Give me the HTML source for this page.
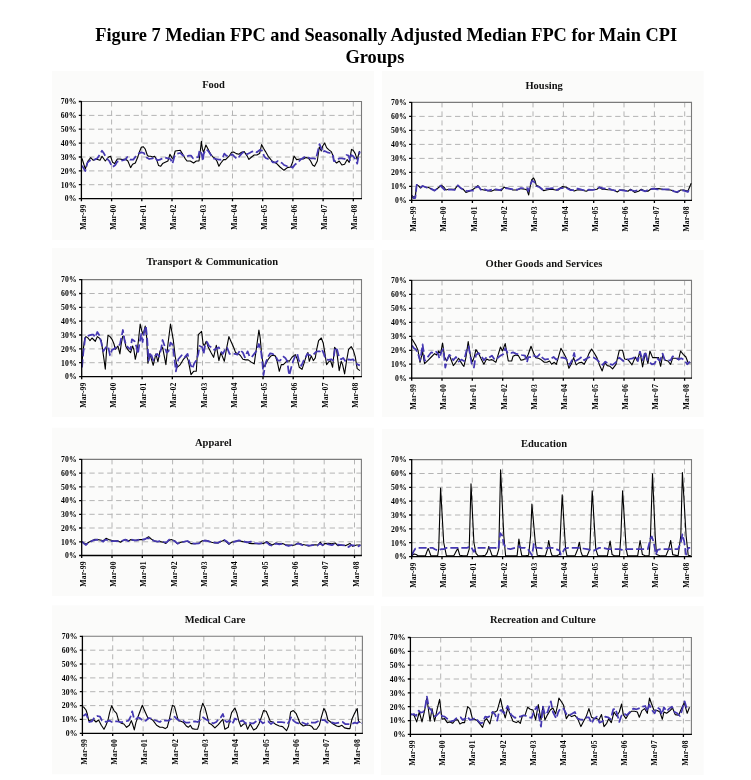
<!DOCTYPE html>
<html><head><meta charset="utf-8"><style>
html,body{margin:0;padding:0;background:#fff;}
svg{display:block;filter:blur(0.3px);}
.t{font:bold 10.5px "Liberation Serif", serif;fill:#111;}
.y,.x{font:bold 7.7px "Liberation Serif", serif;fill:#000;letter-spacing:0.15px;}
.h{font:bold 18.35px "Liberation Serif", serif;fill:#000;}
</style></head><body>
<svg width="751" height="780" viewBox="0 0 751 780">
<rect width="751" height="780" fill="#fff"/>
<text x="95.3" y="40.8" class="h">Figure 7 Median FPC and Seasonally Adjusted Median FPC for Main CPI</text>
<text x="345.5" y="62.5" class="h">Groups</text>
<rect x="52" y="71" width="322.0" height="169.0" fill="#fbfbfa"/>
<text x="213.6" y="88.2" class="t" text-anchor="middle">Food</text>
<path d="M81.4 184.7H361.5 M81.4 170.9H361.5 M81.4 157.0H361.5 M81.4 143.1H361.5 M81.4 129.2H361.5 M81.4 115.4H361.5" stroke="#b4b4b4" stroke-width="1" stroke-dasharray="5.3 3.6" stroke-dashoffset="1.2" fill="none"/>
<path d="M111.6 101.5V198.6 M141.8 101.5V198.6 M172.0 101.5V198.6 M202.2 101.5V198.6 M232.5 101.5V198.6 M262.7 101.5V198.6 M292.9 101.5V198.6 M323.1 101.5V198.6 M353.3 101.5V198.6" stroke="#b4b4b4" stroke-width="1" stroke-dasharray="5 4" fill="none"/>
<path d="M81.4 101.5H361.5V198.6" stroke="#7a7a7a" stroke-width="1.1" fill="none"/>
<polyline points="82.0,158.3 85.3,169.0 88.0,161.0 90.7,157.6 93.3,160.3 96.0,159.0 100.0,160.3 102.0,156.3 105.3,161.0 108.6,157.0 110.6,156.3 112.6,162.3 114.6,163.6 117.3,159.0 119.9,159.0 122.6,159.6 125.3,159.0 127.9,161.0 130.6,167.6 132.6,164.3 135.3,163.0 137.3,158.3 139.3,152.3 141.3,147.3 143.2,146.7 145.2,149.0 147.2,155.0 148.6,156.3 150.6,156.3 152.6,157.0 154.6,156.3 156.6,159.6 158.6,165.6 160.6,166.3 162.6,163.6 165.2,162.3 167.9,161.0 169.9,154.3 171.9,157.6 173.2,159.0 175.2,151.0 180.3,150.3 182.3,153.6 185.0,158.3 187.0,161.0 190.3,161.0 193.6,163.0 196.3,161.0 199.0,161.0 200.3,151.0 201.4,141.4 202.3,148.3 203.6,152.3 205.9,145.0 208.3,149.6 210.3,153.6 212.9,157.0 214.9,158.3 216.9,161.0 218.9,166.3 220.9,163.0 223.6,159.6 225.6,159.6 227.6,157.6 229.6,155.6 231.6,152.3 233.6,152.0 236.3,153.6 238.9,154.3 241.6,152.3 244.2,151.6 246.9,155.6 248.9,159.4 251.6,157.0 254.2,155.0 256.9,155.0 259.6,153.6 261.6,144.6 263.5,148.3 265.5,151.6 268.2,156.3 270.9,159.6 272.7,161.6 276.7,163.6 280.0,167.0 284.0,170.3 287.3,167.6 290.6,167.0 292.6,162.3 294.0,156.0 296.6,159.6 300.0,159.0 303.3,159.0 306.0,157.6 308.6,158.3 310.6,161.0 312.6,165.0 314.6,166.3 317.3,161.0 319.3,147.0 321.3,151.0 322.6,146.3 324.6,143.0 326.6,147.6 328.6,149.6 331.3,151.6 333.2,156.3 333.9,160.3 336.6,163.0 339.2,161.0 341.9,165.0 344.6,164.3 347.2,159.6 349.2,162.3 351.5,149.4 353.2,150.3 355.2,153.6 357.2,159.6 359.5,151.0" stroke="#000" stroke-width="1.1" fill="none" stroke-linejoin="round"/>
<polyline points="82.0,165.6 85.3,171.0 87.3,163.0 89.3,161.0 92.0,159.6 94.6,159.6 97.3,158.3 100.0,154.3 102.0,150.7 104.0,153.6 106.6,158.3 109.3,161.0 111.3,165.0 112.6,167.0 115.3,165.0 117.3,161.6 119.9,161.0 122.6,160.3 125.3,159.6 127.3,157.0 129.9,159.6 133.3,159.6 135.9,156.3 138.6,153.6 141.3,152.3 143.9,153.0 146.6,157.6 149.2,159.0 152.6,158.3 154.6,157.0 157.2,160.3 159.9,159.6 162.6,158.3 165.2,157.6 167.9,158.3 170.5,159.0 172.5,163.6 174.5,156.3 177.2,153.6 180.3,153.0 182.3,155.0 184.3,156.3 187.0,156.3 189.0,155.6 191.0,155.6 193.0,158.3 195.6,157.6 198.3,157.0 199.6,150.3 201.6,153.6 203.0,161.0 203.6,154.3 205.6,149.6 207.6,150.3 209.6,153.0 212.9,158.3 216.3,159.0 218.9,159.6 220.9,159.6 222.9,157.0 224.3,153.6 226.3,155.6 228.3,156.3 230.3,155.6 232.3,154.3 234.9,157.0 236.9,159.0 238.9,157.0 241.6,153.6 244.2,151.6 246.9,154.3 249.6,153.0 252.2,151.6 254.9,151.0 256.9,152.3 260.2,149.6 262.2,151.0 264.2,156.3 266.2,158.3 269.5,159.6 272.2,161.6 272.7,162.3 276.0,162.3 278.0,161.0 282.0,163.0 284.0,165.0 287.3,166.3 290.0,166.3 292.6,167.6 295.3,164.3 298.0,162.3 300.6,159.6 304.6,157.0 307.3,157.0 309.9,158.3 313.9,158.3 315.9,159.0 317.9,151.0 319.5,144.1 321.3,148.3 322.6,152.3 324.6,151.0 327.3,152.3 329.9,153.0 332.6,154.3 333.9,161.0 336.6,161.0 339.2,158.3 341.9,158.3 344.6,159.0 346.6,155.0 348.6,155.6 349.9,160.3 351.2,155.0 353.2,156.3 355.2,159.0 357.2,163.6 358.5,156.3 359.9,151.6" stroke="#4538b2" stroke-width="1.75" stroke-dasharray="8 3" fill="none" stroke-linejoin="round"/>
<path d="M81.4 101.0V198.6H362.0 M78.8 198.6H81.4 M78.8 184.7H81.4 M78.8 170.9H81.4 M78.8 157.0H81.4 M78.8 143.1H81.4 M78.8 129.2H81.4 M78.8 115.4H81.4 M78.8 101.5H81.4 M81.4 198.6V201.2 M111.6 198.6V201.2 M141.8 198.6V201.2 M172.0 198.6V201.2 M202.2 198.6V201.2 M232.5 198.6V201.2 M262.7 198.6V201.2 M292.9 198.6V201.2 M323.1 198.6V201.2 M353.3 198.6V201.2" stroke="#000" stroke-width="1.3" fill="none"/>
<text x="76.5" y="201.4" class="y" text-anchor="end">0%</text>
<text x="76.5" y="187.5" class="y" text-anchor="end">10%</text>
<text x="76.5" y="173.7" class="y" text-anchor="end">20%</text>
<text x="76.5" y="159.8" class="y" text-anchor="end">30%</text>
<text x="76.5" y="145.9" class="y" text-anchor="end">40%</text>
<text x="76.5" y="132.0" class="y" text-anchor="end">50%</text>
<text x="76.5" y="118.2" class="y" text-anchor="end">60%</text>
<text x="76.5" y="104.3" class="y" text-anchor="end">70%</text>
<text transform="translate(85.5 204.4) rotate(-90)" class="x" text-anchor="end">Mar-99</text>
<text transform="translate(115.7 204.4) rotate(-90)" class="x" text-anchor="end">Mar-00</text>
<text transform="translate(145.9 204.4) rotate(-90)" class="x" text-anchor="end">Mar-01</text>
<text transform="translate(176.1 204.4) rotate(-90)" class="x" text-anchor="end">Mar-02</text>
<text transform="translate(206.3 204.4) rotate(-90)" class="x" text-anchor="end">Mar-03</text>
<text transform="translate(236.6 204.4) rotate(-90)" class="x" text-anchor="end">Mar-04</text>
<text transform="translate(266.8 204.4) rotate(-90)" class="x" text-anchor="end">Mar-05</text>
<text transform="translate(297.0 204.4) rotate(-90)" class="x" text-anchor="end">Mar-06</text>
<text transform="translate(327.2 204.4) rotate(-90)" class="x" text-anchor="end">Mar-07</text>
<text transform="translate(357.4 204.4) rotate(-90)" class="x" text-anchor="end">Mar-08</text>
<rect x="382" y="71" width="321.6" height="169.0" fill="#fbfbfa"/>
<text x="544.1" y="88.6" class="t" text-anchor="middle">Housing</text>
<path d="M411.7 186.4H691.5 M411.7 172.4H691.5 M411.7 158.4H691.5 M411.7 144.4H691.5 M411.7 130.4H691.5 M411.7 116.4H691.5" stroke="#b4b4b4" stroke-width="1" stroke-dasharray="5.3 3.6" stroke-dashoffset="1.2" fill="none"/>
<path d="M442.0 102.4V200.4 M472.4 102.4V200.4 M502.7 102.4V200.4 M533.0 102.4V200.4 M563.4 102.4V200.4 M593.7 102.4V200.4 M624.0 102.4V200.4 M654.4 102.4V200.4 M684.7 102.4V200.4" stroke="#b4b4b4" stroke-width="1" stroke-dasharray="5 4" fill="none"/>
<path d="M411.7 102.4H691.5V200.4" stroke="#7a7a7a" stroke-width="1.1" fill="none"/>
<polyline points="411.7,195.3 414.0,197.3 415.3,196.6 416.7,184.6 418.7,186.0 420.6,188.0 422.6,186.0 425.3,187.0 428.0,187.3 430.6,188.6 434.6,190.6 438.0,188.0 441.3,185.3 444.0,187.3 445.9,190.0 448.6,189.3 451.9,189.3 454.6,189.3 457.9,185.3 460.6,188.0 463.3,189.3 465.9,192.4 469.3,191.3 473.2,189.3 477.9,185.7 480.6,189.3 483.9,190.0 487.9,190.6 491.2,191.3 494.6,189.7 498.5,190.0 501.2,190.6 503.9,187.3 509.0,188.6 513.0,190.0 517.0,190.0 521.0,188.6 525.0,189.3 527.0,190.0 528.7,195.0 530.3,186.0 531.6,180.0 533.6,178.0 535.0,180.7 536.3,185.3 539.0,186.6 541.6,188.6 543.6,190.6 547.6,189.7 551.6,189.3 555.6,190.0 558.3,190.0 560.3,188.0 562.3,186.6 566.3,187.3 570.2,189.3 574.2,191.0 577.6,189.7 581.6,190.0 586.2,191.3 588.9,190.0 592.9,189.7 596.9,189.3 599.5,187.3 602.2,189.3 604.0,189.3 608.0,189.7 613.3,190.0 617.3,192.0 620.0,190.0 624.0,190.0 628.0,191.3 630.6,189.3 634.6,192.4 638.6,191.3 641.3,189.3 645.3,191.3 647.9,191.3 650.6,189.3 654.6,188.6 658.6,188.6 662.6,189.3 666.6,189.7 670.6,190.0 673.9,191.3 677.2,192.6 680.6,190.0 683.9,190.0 687.9,191.3 689.5,187.3 691.2,183.3" stroke="#000" stroke-width="1.1" fill="none" stroke-linejoin="round"/>
<polyline points="411.7,196.0 413.3,198.0 415.3,198.0 416.7,184.9 418.7,186.6 420.6,187.3 422.6,186.0 425.3,187.0 428.0,188.0 430.6,188.6 434.6,190.6 437.3,188.6 440.6,185.7 443.3,188.6 445.3,190.6 447.9,189.7 451.3,189.7 454.6,190.0 457.9,185.3 460.6,188.0 463.9,190.0 466.6,191.0 470.6,190.6 473.2,190.6 475.9,187.3 478.6,186.6 481.2,190.0 484.6,189.3 487.9,190.6 491.9,189.7 495.9,189.3 499.9,190.2 503.9,188.0 509.0,188.6 513.0,189.3 517.0,189.7 521.0,188.0 525.0,188.6 527.0,188.0 528.3,191.3 530.3,184.6 532.3,180.7 534.3,182.0 536.3,186.0 539.6,187.3 542.9,190.0 546.3,188.6 550.3,188.4 554.3,188.0 556.9,190.0 559.6,188.6 562.3,188.0 566.3,188.0 570.2,190.0 574.2,190.0 577.6,188.6 581.6,189.7 585.6,190.6 588.9,189.7 592.9,190.0 596.9,188.9 599.5,187.3 604.0,188.6 608.0,188.0 612.0,190.0 616.0,190.6 620.0,190.0 624.0,190.6 628.0,191.3 630.6,190.0 634.6,191.0 638.6,190.0 641.3,190.0 645.3,191.3 649.3,189.3 653.3,188.6 657.3,189.3 661.3,189.3 666.6,189.3 670.6,189.3 673.9,191.3 677.2,192.0 680.6,190.0 683.9,190.6 687.9,192.0 689.5,188.6" stroke="#4538b2" stroke-width="1.75" stroke-dasharray="8 3" fill="none" stroke-linejoin="round"/>
<path d="M411.7 101.9V200.4H692.0 M409.1 200.4H411.7 M409.1 186.4H411.7 M409.1 172.4H411.7 M409.1 158.4H411.7 M409.1 144.4H411.7 M409.1 130.4H411.7 M409.1 116.4H411.7 M409.1 102.4H411.7 M411.7 200.4V203.0 M442.0 200.4V203.0 M472.4 200.4V203.0 M502.7 200.4V203.0 M533.0 200.4V203.0 M563.4 200.4V203.0 M593.7 200.4V203.0 M624.0 200.4V203.0 M654.4 200.4V203.0 M684.7 200.4V203.0" stroke="#000" stroke-width="1.3" fill="none"/>
<text x="406.8" y="203.2" class="y" text-anchor="end">0%</text>
<text x="406.8" y="189.2" class="y" text-anchor="end">10%</text>
<text x="406.8" y="175.2" class="y" text-anchor="end">20%</text>
<text x="406.8" y="161.2" class="y" text-anchor="end">30%</text>
<text x="406.8" y="147.2" class="y" text-anchor="end">40%</text>
<text x="406.8" y="133.2" class="y" text-anchor="end">50%</text>
<text x="406.8" y="119.2" class="y" text-anchor="end">60%</text>
<text x="406.8" y="105.2" class="y" text-anchor="end">70%</text>
<text transform="translate(415.8 206.2) rotate(-90)" class="x" text-anchor="end">Mar-99</text>
<text transform="translate(446.1 206.2) rotate(-90)" class="x" text-anchor="end">Mar-00</text>
<text transform="translate(476.5 206.2) rotate(-90)" class="x" text-anchor="end">Mar-01</text>
<text transform="translate(506.8 206.2) rotate(-90)" class="x" text-anchor="end">Mar-02</text>
<text transform="translate(537.1 206.2) rotate(-90)" class="x" text-anchor="end">Mar-03</text>
<text transform="translate(567.5 206.2) rotate(-90)" class="x" text-anchor="end">Mar-04</text>
<text transform="translate(597.8 206.2) rotate(-90)" class="x" text-anchor="end">Mar-05</text>
<text transform="translate(628.1 206.2) rotate(-90)" class="x" text-anchor="end">Mar-06</text>
<text transform="translate(658.5 206.2) rotate(-90)" class="x" text-anchor="end">Mar-07</text>
<text transform="translate(688.8 206.2) rotate(-90)" class="x" text-anchor="end">Mar-08</text>
<rect x="52" y="248" width="322.0" height="169.0" fill="#fbfbfa"/>
<text x="212.2" y="265.2" class="t" text-anchor="middle">Transport &amp; Communication</text>
<path d="M81.7 362.7H361.5 M81.7 348.9H361.5 M81.7 335.0H361.5 M81.7 321.2H361.5 M81.7 307.3H361.5 M81.7 293.5H361.5" stroke="#b4b4b4" stroke-width="1" stroke-dasharray="5.3 3.6" stroke-dashoffset="1.2" fill="none"/>
<path d="M111.9 279.6V376.6 M142.1 279.6V376.6 M172.3 279.6V376.6 M202.5 279.6V376.6 M232.8 279.6V376.6 M263.0 279.6V376.6 M293.2 279.6V376.6 M323.4 279.6V376.6 M353.6 279.6V376.6" stroke="#b4b4b4" stroke-width="1" stroke-dasharray="5 4" fill="none"/>
<path d="M81.7 279.6H361.5V376.6" stroke="#7a7a7a" stroke-width="1.1" fill="none"/>
<polyline points="81.7,367.3 82.7,353.9 84.7,338.6 86.0,336.6 88.0,338.0 90.0,340.6 92.0,338.0 94.0,340.0 95.3,341.3 97.3,336.6 99.3,338.0 101.3,340.6 102.6,349.9 104.0,359.3 105.3,369.3 106.6,349.9 108.0,335.3 110.0,336.6 112.0,339.3 114.0,344.0 115.3,349.3 117.9,346.0 119.9,353.9 121.3,343.3 122.6,336.6 123.9,336.0 125.9,346.6 128.6,350.6 130.6,352.6 132.6,346.0 133.9,349.9 135.3,359.3 137.3,349.9 138.6,339.3 140.2,324.0 141.9,331.3 143.2,334.6 145.2,326.0 146.6,336.6 147.9,363.3 149.9,353.9 153.2,365.3 155.9,353.9 157.9,361.9 159.9,351.3 162.6,347.3 165.9,364.6 167.9,344.6 170.5,324.0 173.2,339.3 175.2,356.6 177.2,367.3 180.3,364.6 183.0,359.9 186.3,355.9 188.3,360.6 191.0,374.6 193.6,371.3 196.3,371.3 197.6,349.9 198.3,334.6 201.6,331.3 203.0,343.3 204.3,346.0 206.3,341.3 208.3,347.3 211.0,352.6 213.6,357.3 216.3,345.3 218.9,360.6 220.9,352.6 224.3,361.3 226.3,349.9 228.9,336.6 230.9,341.3 233.6,347.3 235.6,352.6 238.2,353.9 240.2,355.3 242.9,359.3 245.6,359.9 248.2,359.9 250.9,361.9 254.2,363.9 256.2,349.9 258.9,330.0 260.2,338.0 261.6,353.9 263.5,367.3 265.5,364.6 268.2,359.3 270.9,355.9 272.7,355.3 275.3,355.9 277.3,361.9 279.3,371.3 281.3,364.6 283.3,364.6 285.3,362.6 287.3,360.6 289.3,361.3 292.0,357.3 295.3,354.6 297.3,359.3 299.3,367.3 302.0,369.3 304.0,363.3 306.0,356.6 307.9,352.6 309.3,361.3 311.3,355.9 313.3,360.6 315.3,357.9 316.6,349.9 318.6,340.6 321.3,338.0 323.3,343.3 324.6,351.3 326.6,364.6 328.6,361.9 330.6,360.6 332.6,367.3 334.6,347.3 336.6,349.9 337.9,360.6 339.2,370.6 341.2,361.3 342.6,364.6 344.6,373.9 346.6,360.6 348.6,349.3 351.2,346.6 353.2,349.9 355.2,356.6 357.2,368.6 359.9,370.6" stroke="#000" stroke-width="1.1" fill="none" stroke-linejoin="round"/>
<polyline points="82.0,367.3 83.3,352.6 85.3,337.3 87.3,336.0 89.3,335.3 92.0,334.6 93.3,334.6 95.3,337.3 97.3,332.0 99.3,335.3 101.3,342.6 103.3,351.3 106.0,347.3 108.0,346.0 110.0,355.3 112.0,349.9 114.6,348.6 117.3,346.0 119.9,344.6 121.3,338.0 122.9,330.0 124.6,340.6 126.6,346.0 128.6,347.9 130.6,349.3 131.9,339.3 134.6,341.3 136.6,347.3 137.9,353.9 139.3,344.6 141.3,334.0 142.6,342.0 143.9,333.3 145.9,326.0 147.2,339.3 148.6,360.6 150.6,352.6 153.2,360.6 155.2,355.9 157.2,353.9 159.2,356.6 161.2,348.6 162.6,340.0 164.6,346.0 166.6,352.6 168.5,351.3 170.5,342.6 172.5,344.6 173.9,353.9 175.9,371.3 178.3,359.3 181.7,355.3 184.3,357.9 187.6,353.9 189.6,362.6 192.3,368.6 194.3,363.3 196.3,360.6 198.3,353.9 199.6,346.0 202.3,347.3 203.6,353.9 205.0,346.0 207.0,342.0 209.0,346.0 211.6,347.3 214.3,349.9 216.3,348.6 218.9,347.3 220.9,351.3 222.9,353.9 224.9,349.9 226.9,347.3 229.6,353.9 232.3,353.9 234.9,353.9 237.6,354.6 240.2,349.9 242.9,352.6 244.9,357.3 247.6,351.3 249.6,356.6 251.6,357.3 254.2,353.9 256.2,351.3 258.9,344.0 260.9,349.9 262.2,360.6 263.5,375.2 265.5,363.3 268.2,356.6 270.2,353.3 272.7,353.9 275.3,355.9 278.0,360.6 280.0,360.6 283.3,356.6 285.3,357.9 287.3,361.3 288.6,371.3 289.3,375.2 291.3,367.3 293.3,360.6 295.3,355.9 297.3,353.9 298.6,359.3 301.3,365.9 303.3,361.3 305.3,357.9 307.3,353.9 309.9,355.3 312.6,355.3 315.3,352.6 317.3,351.3 319.9,351.3 321.9,349.3 323.9,353.9 325.9,359.3 328.6,359.9 331.3,359.3 333.2,360.6 335.2,347.3 337.2,349.9 339.2,357.9 341.2,359.3 343.2,357.9 345.9,361.9 348.6,359.3 350.6,359.9 353.2,359.3 355.9,363.3 357.9,364.6 359.9,365.3" stroke="#4538b2" stroke-width="1.75" stroke-dasharray="8 3" fill="none" stroke-linejoin="round"/>
<path d="M81.7 279.1V376.6H362.0 M79.1 376.6H81.7 M79.1 362.7H81.7 M79.1 348.9H81.7 M79.1 335.0H81.7 M79.1 321.2H81.7 M79.1 307.3H81.7 M79.1 293.5H81.7 M79.1 279.6H81.7 M81.7 376.6V379.2 M111.9 376.6V379.2 M142.1 376.6V379.2 M172.3 376.6V379.2 M202.5 376.6V379.2 M232.8 376.6V379.2 M263.0 376.6V379.2 M293.2 376.6V379.2 M323.4 376.6V379.2 M353.6 376.6V379.2" stroke="#000" stroke-width="1.3" fill="none"/>
<text x="76.8" y="379.4" class="y" text-anchor="end">0%</text>
<text x="76.8" y="365.5" class="y" text-anchor="end">10%</text>
<text x="76.8" y="351.7" class="y" text-anchor="end">20%</text>
<text x="76.8" y="337.8" class="y" text-anchor="end">30%</text>
<text x="76.8" y="324.0" class="y" text-anchor="end">40%</text>
<text x="76.8" y="310.1" class="y" text-anchor="end">50%</text>
<text x="76.8" y="296.3" class="y" text-anchor="end">60%</text>
<text x="76.8" y="282.4" class="y" text-anchor="end">70%</text>
<text transform="translate(85.8 382.4) rotate(-90)" class="x" text-anchor="end">Mar-99</text>
<text transform="translate(116.0 382.4) rotate(-90)" class="x" text-anchor="end">Mar-00</text>
<text transform="translate(146.2 382.4) rotate(-90)" class="x" text-anchor="end">Mar-01</text>
<text transform="translate(176.4 382.4) rotate(-90)" class="x" text-anchor="end">Mar-02</text>
<text transform="translate(206.6 382.4) rotate(-90)" class="x" text-anchor="end">Mar-03</text>
<text transform="translate(236.9 382.4) rotate(-90)" class="x" text-anchor="end">Mar-04</text>
<text transform="translate(267.1 382.4) rotate(-90)" class="x" text-anchor="end">Mar-05</text>
<text transform="translate(297.3 382.4) rotate(-90)" class="x" text-anchor="end">Mar-06</text>
<text transform="translate(327.5 382.4) rotate(-90)" class="x" text-anchor="end">Mar-07</text>
<text transform="translate(357.7 382.4) rotate(-90)" class="x" text-anchor="end">Mar-08</text>
<rect x="382" y="250" width="321.6" height="167.0" fill="#fbfbfa"/>
<text x="543.9" y="267.2" class="t" text-anchor="middle">Other Goods and Services</text>
<path d="M411.7 364.2H691.5 M411.7 350.3H691.5 M411.7 336.3H691.5 M411.7 322.3H691.5 M411.7 308.3H691.5 M411.7 294.4H691.5" stroke="#b4b4b4" stroke-width="1" stroke-dasharray="5.3 3.6" stroke-dashoffset="1.2" fill="none"/>
<path d="M442.0 280.4V378.2 M472.3 280.4V378.2 M502.7 280.4V378.2 M533.0 280.4V378.2 M563.3 280.4V378.2 M593.6 280.4V378.2 M624.0 280.4V378.2 M654.3 280.4V378.2 M684.6 280.4V378.2" stroke="#b4b4b4" stroke-width="1" stroke-dasharray="5 4" fill="none"/>
<path d="M411.7 280.4H691.5V378.2" stroke="#7a7a7a" stroke-width="1.1" fill="none"/>
<polyline points="412.0,339.0 414.0,342.3 416.0,345.6 418.0,350.3 420.0,362.3 421.3,357.0 422.6,351.6 423.7,358.3 424.6,363.6 428.0,360.3 431.3,357.0 434.6,353.6 436.6,355.0 438.6,351.0 440.6,353.6 442.6,343.0 444.6,357.0 446.6,361.0 449.3,355.0 451.3,360.3 453.3,365.6 455.9,362.3 458.6,358.3 460.6,361.6 462.6,364.9 463.9,366.3 465.9,357.6 468.2,341.6 470.6,357.0 472.6,361.6 474.6,355.6 475.9,349.6 478.6,353.6 481.2,359.0 483.9,364.3 486.6,359.0 489.2,360.3 491.9,359.6 495.9,362.3 497.9,355.6 500.5,347.0 502.5,351.0 505.2,343.6 508.3,361.0 511.7,361.0 513.0,356.3 515.7,355.0 518.3,355.6 521.0,360.3 523.6,359.6 526.3,358.3 528.3,354.3 531.0,346.3 533.6,353.0 535.6,357.6 538.3,358.3 541.0,359.6 544.3,362.3 546.9,362.3 549.6,361.0 551.6,364.3 554.3,362.3 556.3,364.3 558.3,357.6 560.9,348.3 563.6,353.0 566.3,358.3 568.9,368.3 571.6,363.6 573.6,357.6 576.2,364.9 578.9,362.9 581.6,362.3 584.2,364.3 586.9,359.0 588.9,353.6 591.6,349.0 594.2,353.0 596.9,357.6 599.5,364.9 602.2,370.9 604.7,362.9 607.3,365.6 610.0,366.3 612.6,368.9 616.0,364.3 619.3,350.3 622.6,350.3 624.6,359.0 628.0,359.6 632.0,364.9 635.3,357.0 637.3,361.0 639.9,351.6 642.6,366.9 645.3,353.0 647.9,363.6 649.9,351.0 652.6,357.6 655.9,357.6 658.6,357.6 660.6,366.3 662.6,355.6 665.2,360.3 667.9,361.0 670.6,364.3 672.6,358.3 675.9,358.3 678.6,359.6 680.6,351.0 683.2,354.3 685.9,357.0 687.9,362.3 690.5,362.9" stroke="#000" stroke-width="1.1" fill="none" stroke-linejoin="round"/>
<polyline points="412.0,345.6 414.0,348.3 416.0,349.6 418.0,353.6 420.0,360.3 421.3,353.6 422.6,344.3 424.0,354.3 424.6,361.0 427.3,357.6 431.3,352.3 434.0,353.0 436.0,351.6 438.0,353.6 439.3,358.3 441.3,352.3 443.3,349.0 445.3,367.6 447.3,359.6 449.3,355.0 450.6,355.6 453.3,360.3 455.9,357.0 458.6,361.6 461.3,359.6 463.9,361.0 466.6,350.3 468.6,346.3 469.9,353.6 471.9,364.9 473.9,367.6 475.9,355.0 478.6,353.0 481.2,355.6 483.9,360.3 486.6,357.0 489.2,357.6 491.9,355.6 494.6,359.6 497.2,358.3 500.5,355.6 503.2,354.3 505.2,348.3 507.7,353.0 511.0,353.0 513.0,352.3 515.7,353.6 518.3,354.3 521.6,355.0 525.0,355.6 527.0,362.3 528.3,357.0 531.6,357.0 533.6,355.6 537.0,357.0 539.6,354.3 542.3,357.6 544.9,359.6 547.6,359.0 550.3,359.0 553.6,357.0 556.3,359.6 558.9,357.6 562.3,357.6 565.6,358.3 567.6,361.0 569.6,364.9 572.2,359.6 574.2,353.0 575.6,361.0 578.2,359.6 581.6,357.0 584.2,360.3 586.9,358.3 590.2,357.0 593.5,357.6 596.9,359.6 599.5,362.3 602.7,364.9 605.3,361.6 608.0,363.6 612.6,364.9 616.0,362.3 619.3,357.6 623.3,361.0 626.0,359.6 629.3,359.0 632.6,358.3 636.0,356.3 637.9,361.0 639.9,351.6 642.6,360.3 645.3,351.6 647.3,359.6 649.3,362.3 651.9,364.3 654.6,363.6 657.3,358.3 659.9,361.0 662.6,353.6 664.6,359.6 667.9,360.3 670.6,360.3 672.6,356.3 675.9,357.6 678.6,359.6 681.2,358.3 684.6,360.3 687.2,364.3 689.9,361.6" stroke="#4538b2" stroke-width="1.75" stroke-dasharray="8 3" fill="none" stroke-linejoin="round"/>
<path d="M411.7 279.9V378.2H692.0 M409.1 378.2H411.7 M409.1 364.2H411.7 M409.1 350.3H411.7 M409.1 336.3H411.7 M409.1 322.3H411.7 M409.1 308.3H411.7 M409.1 294.4H411.7 M409.1 280.4H411.7 M411.7 378.2V380.8 M442.0 378.2V380.8 M472.3 378.2V380.8 M502.7 378.2V380.8 M533.0 378.2V380.8 M563.3 378.2V380.8 M593.6 378.2V380.8 M624.0 378.2V380.8 M654.3 378.2V380.8 M684.6 378.2V380.8" stroke="#000" stroke-width="1.3" fill="none"/>
<text x="406.8" y="381.0" class="y" text-anchor="end">0%</text>
<text x="406.8" y="367.0" class="y" text-anchor="end">10%</text>
<text x="406.8" y="353.1" class="y" text-anchor="end">20%</text>
<text x="406.8" y="339.1" class="y" text-anchor="end">30%</text>
<text x="406.8" y="325.1" class="y" text-anchor="end">40%</text>
<text x="406.8" y="311.1" class="y" text-anchor="end">50%</text>
<text x="406.8" y="297.2" class="y" text-anchor="end">60%</text>
<text x="406.8" y="283.2" class="y" text-anchor="end">70%</text>
<text transform="translate(415.8 384.0) rotate(-90)" class="x" text-anchor="end">Mar-99</text>
<text transform="translate(446.1 384.0) rotate(-90)" class="x" text-anchor="end">Mar-00</text>
<text transform="translate(476.4 384.0) rotate(-90)" class="x" text-anchor="end">Mar-01</text>
<text transform="translate(506.8 384.0) rotate(-90)" class="x" text-anchor="end">Mar-02</text>
<text transform="translate(537.1 384.0) rotate(-90)" class="x" text-anchor="end">Mar-03</text>
<text transform="translate(567.4 384.0) rotate(-90)" class="x" text-anchor="end">Mar-04</text>
<text transform="translate(597.7 384.0) rotate(-90)" class="x" text-anchor="end">Mar-05</text>
<text transform="translate(628.1 384.0) rotate(-90)" class="x" text-anchor="end">Mar-06</text>
<text transform="translate(658.4 384.0) rotate(-90)" class="x" text-anchor="end">Mar-07</text>
<text transform="translate(688.7 384.0) rotate(-90)" class="x" text-anchor="end">Mar-08</text>
<rect x="52" y="427.7" width="322.0" height="168.3" fill="#fbfbfa"/>
<text x="213.3" y="445.6" class="t" text-anchor="middle">Apparel</text>
<path d="M81.7 541.8H361.4 M81.7 528.0H361.4 M81.7 514.3H361.4 M81.7 500.6H361.4 M81.7 486.9H361.4 M81.7 473.1H361.4" stroke="#b4b4b4" stroke-width="1" stroke-dasharray="5.3 3.6" stroke-dashoffset="1.2" fill="none"/>
<path d="M112.0 459.4V555.5 M142.3 459.4V555.5 M172.6 459.4V555.5 M202.9 459.4V555.5 M233.3 459.4V555.5 M263.6 459.4V555.5 M293.9 459.4V555.5 M324.2 459.4V555.5 M354.5 459.4V555.5" stroke="#b4b4b4" stroke-width="1" stroke-dasharray="5 4" fill="none"/>
<path d="M81.7 459.4H361.4V555.5" stroke="#7a7a7a" stroke-width="1.1" fill="none"/>
<polyline points="82.0,541.6 84.0,543.0 86.0,544.3 88.7,542.3 91.3,541.0 94.6,539.4 98.0,539.6 101.3,540.3 103.3,540.7 106.0,538.3 108.6,539.6 111.3,540.3 114.0,541.0 117.3,540.7 120.6,542.3 123.3,540.3 125.9,539.6 128.6,541.0 130.6,539.6 133.3,540.3 135.9,540.3 139.3,539.6 142.6,539.6 145.2,539.0 148.6,536.7 151.2,539.0 153.9,540.7 157.2,541.6 159.9,541.6 163.2,542.3 165.9,543.4 168.5,540.7 171.2,539.6 174.5,540.7 177.2,543.6 177.7,543.6 181.0,542.3 184.3,541.6 187.6,541.2 191.0,543.6 195.0,543.6 199.0,543.0 202.3,540.7 205.0,540.3 208.3,541.0 211.6,542.3 214.9,543.0 218.3,543.0 220.9,541.6 224.3,540.3 226.9,542.3 228.9,544.3 231.6,542.3 234.9,541.2 238.9,540.7 242.9,541.6 246.9,542.0 249.6,543.4 252.2,543.6 256.2,543.6 260.2,543.6 263.5,543.4 266.9,541.6 269.5,543.6 272.2,545.0 272.7,544.7 276.0,543.0 279.3,543.9 282.6,543.6 286.0,545.0 289.3,545.0 292.6,545.6 295.3,544.7 298.0,543.0 302.0,544.3 305.3,545.0 308.6,546.0 311.9,545.0 315.3,544.7 317.9,545.0 320.3,542.0 322.6,545.6 324.6,543.6 328.6,543.4 331.9,543.9 335.2,543.0 337.9,545.6 341.9,545.0 345.9,545.6 349.9,543.4 352.6,546.3 356.6,545.0 360.5,545.0" stroke="#000" stroke-width="1.1" fill="none" stroke-linejoin="round"/>
<polyline points="82.0,541.6 84.0,543.6 86.0,545.0 88.0,543.0 90.7,541.6 93.3,540.3 97.3,539.6 100.6,540.3 103.3,541.6 105.3,539.6 108.0,540.3 110.6,541.2 114.0,541.2 117.3,541.0 119.9,541.6 122.6,540.7 125.3,539.6 128.6,541.2 131.3,539.6 134.6,540.3 137.3,540.3 140.6,539.0 143.9,539.6 146.6,538.3 149.2,538.3 151.9,539.9 154.6,541.0 157.2,541.6 159.9,541.2 163.9,542.0 166.6,542.3 169.2,539.6 171.9,540.3 174.5,541.0 177.7,543.6 181.0,542.0 184.3,541.6 187.6,541.0 191.0,543.4 195.0,543.6 199.0,543.4 202.3,541.0 206.3,540.7 209.6,541.6 213.6,542.3 217.6,543.0 220.9,541.2 224.3,539.9 226.9,541.6 228.9,543.6 231.6,542.6 234.9,541.6 238.9,540.3 242.9,541.2 246.9,542.3 250.9,541.6 254.9,543.0 258.9,543.6 262.9,543.0 266.9,542.3 269.5,545.0 272.2,545.6 272.7,545.0 276.0,543.6 279.3,544.3 282.6,543.6 286.0,545.2 288.6,546.0 292.0,545.0 295.3,544.3 298.6,543.6 302.0,545.0 306.0,545.0 309.9,545.6 313.9,545.0 317.3,545.6 319.9,543.6 322.6,545.0 325.3,543.6 328.6,544.3 331.9,545.2 335.2,543.6 337.9,544.7 341.9,545.2 345.9,545.6 348.6,547.0 351.2,545.0 355.2,545.6 358.5,546.3 360.5,545.0" stroke="#4538b2" stroke-width="1.75" stroke-dasharray="8 3" fill="none" stroke-linejoin="round"/>
<path d="M81.7 458.9V555.5H361.9 M79.1 555.5H81.7 M79.1 541.8H81.7 M79.1 528.0H81.7 M79.1 514.3H81.7 M79.1 500.6H81.7 M79.1 486.9H81.7 M79.1 473.1H81.7 M79.1 459.4H81.7 M81.7 555.5V558.1 M112.0 555.5V558.1 M142.3 555.5V558.1 M172.6 555.5V558.1 M202.9 555.5V558.1 M233.3 555.5V558.1 M263.6 555.5V558.1 M293.9 555.5V558.1 M324.2 555.5V558.1 M354.5 555.5V558.1" stroke="#000" stroke-width="1.3" fill="none"/>
<text x="76.8" y="558.3" class="y" text-anchor="end">0%</text>
<text x="76.8" y="544.6" class="y" text-anchor="end">10%</text>
<text x="76.8" y="530.8" class="y" text-anchor="end">20%</text>
<text x="76.8" y="517.1" class="y" text-anchor="end">30%</text>
<text x="76.8" y="503.4" class="y" text-anchor="end">40%</text>
<text x="76.8" y="489.7" class="y" text-anchor="end">50%</text>
<text x="76.8" y="475.9" class="y" text-anchor="end">60%</text>
<text x="76.8" y="462.2" class="y" text-anchor="end">70%</text>
<text transform="translate(85.8 561.3) rotate(-90)" class="x" text-anchor="end">Mar-99</text>
<text transform="translate(116.1 561.3) rotate(-90)" class="x" text-anchor="end">Mar-00</text>
<text transform="translate(146.4 561.3) rotate(-90)" class="x" text-anchor="end">Mar-01</text>
<text transform="translate(176.7 561.3) rotate(-90)" class="x" text-anchor="end">Mar-02</text>
<text transform="translate(207.0 561.3) rotate(-90)" class="x" text-anchor="end">Mar-03</text>
<text transform="translate(237.4 561.3) rotate(-90)" class="x" text-anchor="end">Mar-04</text>
<text transform="translate(267.7 561.3) rotate(-90)" class="x" text-anchor="end">Mar-05</text>
<text transform="translate(298.0 561.3) rotate(-90)" class="x" text-anchor="end">Mar-06</text>
<text transform="translate(328.3 561.3) rotate(-90)" class="x" text-anchor="end">Mar-07</text>
<text transform="translate(358.6 561.3) rotate(-90)" class="x" text-anchor="end">Mar-08</text>
<rect x="382" y="429" width="321.6" height="167.6" fill="#fbfbfa"/>
<text x="544.1" y="447.0" class="t" text-anchor="middle">Education</text>
<path d="M411.7 542.7H691.5 M411.7 528.9H691.5 M411.7 515.0H691.5 M411.7 501.2H691.5 M411.7 487.3H691.5 M411.7 473.5H691.5" stroke="#b4b4b4" stroke-width="1" stroke-dasharray="5.3 3.6" stroke-dashoffset="1.2" fill="none"/>
<path d="M442.0 459.6V556.6 M472.3 459.6V556.6 M502.6 459.6V556.6 M532.9 459.6V556.6 M563.3 459.6V556.6 M593.6 459.6V556.6 M623.9 459.6V556.6 M654.2 459.6V556.6 M684.5 459.6V556.6" stroke="#b4b4b4" stroke-width="1" stroke-dasharray="5 4" fill="none"/>
<path d="M411.7 459.6H691.5V556.6" stroke="#7a7a7a" stroke-width="1.1" fill="none"/>
<polyline points="411.8,555.7 414.1,553.9 416.1,554.6 418.1,555.7 421.5,555.9 425.5,555.7 426.8,551.9 428.2,548.5 429.5,551.9 430.9,555.7 433.6,555.9 437.6,555.9 438.7,549.2 440.6,488.0 443.7,542.5 446.4,555.7 449.7,555.9 453.8,555.7 455.8,551.9 457.8,548.5 459.8,555.3 463.2,555.9 467.2,555.7 469.2,549.2 471.0,483.9 473.9,542.5 476.0,553.3 478.0,555.7 482.0,555.9 485.4,555.3 487.4,551.9 488.8,546.5 490.8,551.9 492.1,555.7 496.8,555.9 498.8,549.2 500.6,469.8 503.8,535.8 505.6,555.7 509.0,555.9 513.1,555.9 517.1,555.7 518.9,539.1 520.5,549.2 521.8,555.7 525.2,555.9 528.6,555.3 530.6,535.8 531.9,504.1 535.3,542.5 537.3,555.3 541.3,555.7 545.4,555.9 547.4,549.2 548.7,540.5 550.8,551.9 552.1,555.7 556.1,555.9 559.5,554.6 560.9,522.3 562.2,494.7 565.6,549.2 566.9,555.7 570.9,555.9 575.0,555.9 577.7,549.2 579.3,542.2 581.0,551.9 582.4,555.7 587.1,555.9 589.8,549.2 592.2,490.7 595.8,549.2 597.9,555.7 604.0,555.7 607.4,555.7 610.1,541.1 612.1,554.6 614.8,555.9 619.5,555.7 620.9,535.8 622.6,490.7 626.2,549.2 627.6,555.7 633.6,555.9 637.7,555.7 640.1,540.5 642.4,554.6 645.8,555.9 649.1,555.7 650.5,535.8 652.5,473.8 655.2,535.8 656.5,554.6 660.6,555.9 665.9,555.9 668.6,549.2 670.7,540.5 672.7,554.6 678.1,555.9 680.8,535.8 682.4,472.5 686.1,535.8 688.2,555.3 690.8,555.9" stroke="#000" stroke-width="1.1" fill="none" stroke-linejoin="round"/>
<polyline points="411.8,555.3 413.4,551.9 415.4,548.5 418.1,547.9 421.5,547.9 425.5,547.9 428.2,547.9 430.2,547.9 432.9,547.9 434.9,549.2 438.3,550.6 441.0,549.2 443.7,549.2 446.4,547.9 449.7,547.9 453.8,547.9 456.5,547.9 459.1,547.9 461.8,547.9 465.2,547.9 467.2,547.9 469.2,546.5 471.3,547.2 473.9,551.9 476.0,547.9 479.3,547.9 483.4,547.9 486.1,547.9 488.8,547.9 492.1,547.9 495.5,547.9 498.4,549.2 500.2,533.1 502.2,535.8 503.8,543.8 505.6,547.9 507.7,548.5 510.4,549.2 515.1,547.9 518.5,546.5 521.2,547.9 525.2,547.9 527.9,549.2 529.9,551.9 531.9,555.3 533.9,543.8 536.0,547.9 538.6,547.9 544.0,548.5 548.1,547.9 552.1,547.9 554.8,548.5 559.5,550.6 560.9,554.6 562.9,551.9 564.9,548.5 568.3,547.9 574.3,547.9 579.0,547.9 583.1,548.5 587.1,549.2 591.1,549.9 593.8,550.6 596.5,549.2 599.2,547.9 604.0,548.1 608.1,549.2 612.1,549.2 616.2,549.2 620.2,549.2 623.6,550.6 626.2,549.2 629.6,549.2 633.6,549.2 639.0,549.2 643.1,549.2 647.8,549.2 650.5,538.4 651.8,536.4 653.8,542.5 655.9,554.6 657.6,549.9 660.6,549.2 665.9,549.2 670.7,549.2 675.4,549.2 678.1,549.2 680.8,542.5 682.4,534.4 684.1,541.1 686.1,554.6 688.2,547.9 690.2,547.9" stroke="#4538b2" stroke-width="1.75" stroke-dasharray="8 3" fill="none" stroke-linejoin="round"/>
<path d="M411.7 459.1V556.6H692.0 M409.1 556.6H411.7 M409.1 542.7H411.7 M409.1 528.9H411.7 M409.1 515.0H411.7 M409.1 501.2H411.7 M409.1 487.3H411.7 M409.1 473.5H411.7 M409.1 459.6H411.7 M411.7 556.6V559.2 M442.0 556.6V559.2 M472.3 556.6V559.2 M502.6 556.6V559.2 M532.9 556.6V559.2 M563.3 556.6V559.2 M593.6 556.6V559.2 M623.9 556.6V559.2 M654.2 556.6V559.2 M684.5 556.6V559.2" stroke="#000" stroke-width="1.3" fill="none"/>
<text x="406.8" y="559.4" class="y" text-anchor="end">0%</text>
<text x="406.8" y="545.5" class="y" text-anchor="end">10%</text>
<text x="406.8" y="531.7" class="y" text-anchor="end">20%</text>
<text x="406.8" y="517.8" class="y" text-anchor="end">30%</text>
<text x="406.8" y="504.0" class="y" text-anchor="end">40%</text>
<text x="406.8" y="490.1" class="y" text-anchor="end">50%</text>
<text x="406.8" y="476.3" class="y" text-anchor="end">60%</text>
<text x="406.8" y="462.4" class="y" text-anchor="end">70%</text>
<text transform="translate(415.8 562.4) rotate(-90)" class="x" text-anchor="end">Mar-99</text>
<text transform="translate(446.1 562.4) rotate(-90)" class="x" text-anchor="end">Mar-00</text>
<text transform="translate(476.4 562.4) rotate(-90)" class="x" text-anchor="end">Mar-01</text>
<text transform="translate(506.7 562.4) rotate(-90)" class="x" text-anchor="end">Mar-02</text>
<text transform="translate(537.0 562.4) rotate(-90)" class="x" text-anchor="end">Mar-03</text>
<text transform="translate(567.4 562.4) rotate(-90)" class="x" text-anchor="end">Mar-04</text>
<text transform="translate(597.7 562.4) rotate(-90)" class="x" text-anchor="end">Mar-05</text>
<text transform="translate(628.0 562.4) rotate(-90)" class="x" text-anchor="end">Mar-06</text>
<text transform="translate(658.3 562.4) rotate(-90)" class="x" text-anchor="end">Mar-07</text>
<text transform="translate(688.6 562.4) rotate(-90)" class="x" text-anchor="end">Mar-08</text>
<rect x="52" y="605.4" width="322.0" height="168.9" fill="#fbfbfa"/>
<text x="215.0" y="622.9" class="t" text-anchor="middle">Medical Care</text>
<path d="M82.4 719.4H362.4 M82.4 705.6H362.4 M82.4 691.7H362.4 M82.4 677.9H362.4 M82.4 664.0H362.4 M82.4 650.2H362.4" stroke="#b4b4b4" stroke-width="1" stroke-dasharray="5.3 3.6" stroke-dashoffset="1.2" fill="none"/>
<path d="M112.7 636.3V733.3 M143.1 636.3V733.3 M173.4 636.3V733.3 M203.8 636.3V733.3 M234.1 636.3V733.3 M264.5 636.3V733.3 M294.8 636.3V733.3 M325.2 636.3V733.3 M355.5 636.3V733.3" stroke="#b4b4b4" stroke-width="1" stroke-dasharray="5 4" fill="none"/>
<path d="M82.4 636.3H362.4V733.3" stroke="#7a7a7a" stroke-width="1.1" fill="none"/>
<polyline points="83.3,706.6 86.0,710.0 87.3,714.0 88.7,720.6 91.3,720.0 94.0,720.0 96.0,722.0 98.6,720.0 101.3,725.3 104.0,729.3 106.0,725.3 108.0,720.0 109.6,712.6 111.7,705.7 114.0,710.6 116.6,713.3 118.6,720.6 121.3,723.3 123.9,724.0 126.6,727.3 129.3,725.3 131.3,720.6 132.6,724.0 134.3,729.9 135.9,722.6 139.3,713.3 142.3,705.3 145.2,712.0 147.9,718.0 150.6,718.6 153.2,720.6 156.6,725.3 159.9,727.3 162.6,727.3 165.2,728.6 167.2,727.3 169.2,720.0 171.2,710.6 172.5,705.3 174.5,706.6 177.2,716.6 178.3,720.6 181.0,721.3 183.7,722.6 186.3,726.0 188.3,727.3 190.3,725.3 192.3,728.6 195.0,729.3 197.6,729.3 199.0,724.6 200.3,712.0 202.7,703.3 205.0,708.0 207.0,715.3 209.0,723.3 211.6,724.6 214.9,727.9 218.3,724.6 221.6,720.6 222.9,719.3 224.9,729.3 228.3,727.3 229.6,720.6 231.6,712.6 234.9,708.0 236.9,713.3 238.9,721.3 240.9,726.6 242.9,724.6 245.6,723.3 247.6,729.3 250.2,724.0 253.6,729.9 256.2,728.6 258.9,724.0 261.6,716.6 263.5,710.6 266.2,711.3 268.2,716.0 270.2,721.3 272.7,722.0 276.0,724.6 279.3,726.0 282.6,726.6 284.6,728.6 286.6,730.6 288.6,726.0 290.6,712.0 293.3,710.6 296.0,713.3 298.0,718.0 300.0,723.3 303.3,726.0 306.0,725.3 309.3,725.3 311.9,726.6 313.9,729.3 316.6,729.3 319.3,725.3 321.3,717.3 323.9,708.4 325.9,712.0 327.9,720.0 330.6,722.0 333.2,724.0 336.6,726.0 339.2,726.6 341.9,725.3 344.6,727.9 347.9,728.6 349.9,728.6 351.9,719.3 354.6,713.3 357.2,708.6 358.5,721.3 360.5,722.6" stroke="#000" stroke-width="1.1" fill="none" stroke-linejoin="round"/>
<polyline points="83.3,716.0 86.0,714.0 88.0,718.6 89.3,722.0 92.0,721.3 94.6,717.3 97.3,716.0 100.0,716.6 102.0,720.6 104.6,722.0 107.3,721.3 109.3,720.6 112.0,722.0 114.6,721.3 117.3,721.3 119.9,722.0 122.6,722.0 125.9,721.3 128.6,720.6 130.6,716.6 132.2,711.3 133.9,718.0 135.9,719.3 137.9,717.3 140.6,718.6 143.2,721.3 145.9,720.6 148.6,718.0 151.9,718.6 154.6,720.0 157.9,721.3 159.9,722.0 162.6,720.0 165.2,720.6 168.5,720.6 171.9,718.6 174.5,716.6 177.2,719.3 177.7,719.3 180.3,721.3 183.0,720.6 185.7,722.6 188.3,722.6 191.6,722.0 195.0,721.3 197.6,722.0 199.6,720.6 203.0,717.3 205.6,719.3 208.3,720.6 211.0,722.6 213.6,723.3 216.3,722.0 218.9,718.6 220.9,717.3 222.9,714.0 224.9,720.6 226.9,722.0 229.6,720.6 232.3,724.0 234.9,718.6 237.6,720.0 240.2,721.3 242.9,720.6 245.6,723.3 248.2,722.0 250.9,723.3 253.6,723.3 256.2,721.3 258.9,719.3 262.9,723.3 265.5,722.0 268.2,721.3 270.9,724.0 272.7,722.6 276.0,722.0 278.7,722.0 281.3,722.0 284.6,722.6 287.3,724.0 289.3,721.3 291.3,716.6 293.3,720.6 296.0,722.6 298.6,723.3 301.3,722.0 304.0,723.3 306.6,724.6 309.3,722.0 311.9,722.6 315.3,722.6 317.9,721.3 321.3,720.0 324.6,720.0 327.3,722.6 329.9,722.0 332.6,722.6 335.2,723.3 339.2,722.6 342.6,722.0 345.2,724.0 349.2,724.0 351.9,724.0 354.6,722.6 357.2,723.3 359.2,721.3 361.9,723.3" stroke="#4538b2" stroke-width="1.75" stroke-dasharray="8 3" fill="none" stroke-linejoin="round"/>
<path d="M82.4 635.8V733.3H362.9 M79.8 733.3H82.4 M79.8 719.4H82.4 M79.8 705.6H82.4 M79.8 691.7H82.4 M79.8 677.9H82.4 M79.8 664.0H82.4 M79.8 650.2H82.4 M79.8 636.3H82.4 M82.4 733.3V735.9 M112.7 733.3V735.9 M143.1 733.3V735.9 M173.4 733.3V735.9 M203.8 733.3V735.9 M234.1 733.3V735.9 M264.5 733.3V735.9 M294.8 733.3V735.9 M325.2 733.3V735.9 M355.5 733.3V735.9" stroke="#000" stroke-width="1.3" fill="none"/>
<text x="77.5" y="736.1" class="y" text-anchor="end">0%</text>
<text x="77.5" y="722.2" class="y" text-anchor="end">10%</text>
<text x="77.5" y="708.4" class="y" text-anchor="end">20%</text>
<text x="77.5" y="694.5" class="y" text-anchor="end">30%</text>
<text x="77.5" y="680.7" class="y" text-anchor="end">40%</text>
<text x="77.5" y="666.8" class="y" text-anchor="end">50%</text>
<text x="77.5" y="653.0" class="y" text-anchor="end">60%</text>
<text x="77.5" y="639.1" class="y" text-anchor="end">70%</text>
<text transform="translate(86.5 739.1) rotate(-90)" class="x" text-anchor="end">Mar-99</text>
<text transform="translate(116.8 739.1) rotate(-90)" class="x" text-anchor="end">Mar-00</text>
<text transform="translate(147.2 739.1) rotate(-90)" class="x" text-anchor="end">Mar-01</text>
<text transform="translate(177.5 739.1) rotate(-90)" class="x" text-anchor="end">Mar-02</text>
<text transform="translate(207.9 739.1) rotate(-90)" class="x" text-anchor="end">Mar-03</text>
<text transform="translate(238.2 739.1) rotate(-90)" class="x" text-anchor="end">Mar-04</text>
<text transform="translate(268.6 739.1) rotate(-90)" class="x" text-anchor="end">Mar-05</text>
<text transform="translate(298.9 739.1) rotate(-90)" class="x" text-anchor="end">Mar-06</text>
<text transform="translate(329.3 739.1) rotate(-90)" class="x" text-anchor="end">Mar-07</text>
<text transform="translate(359.6 739.1) rotate(-90)" class="x" text-anchor="end">Mar-08</text>
<rect x="381" y="606" width="322.6" height="169.0" fill="#fbfbfa"/>
<text x="542.8" y="622.9" class="t" text-anchor="middle">Recreation and Culture</text>
<path d="M410.4 720.6H691.4 M410.4 706.7H691.4 M410.4 692.9H691.4 M410.4 679.0H691.4 M410.4 665.2H691.4 M410.4 651.3H691.4" stroke="#b4b4b4" stroke-width="1" stroke-dasharray="5.3 3.6" stroke-dashoffset="1.2" fill="none"/>
<path d="M440.7 637.5V734.4 M471.1 637.5V734.4 M501.4 637.5V734.4 M531.7 637.5V734.4 M562.1 637.5V734.4 M592.4 637.5V734.4 M622.7 637.5V734.4 M653.1 637.5V734.4 M683.4 637.5V734.4" stroke="#b4b4b4" stroke-width="1" stroke-dasharray="5 4" fill="none"/>
<path d="M410.4 637.5H691.4V734.4" stroke="#7a7a7a" stroke-width="1.1" fill="none"/>
<polyline points="410.9,714.0 414.0,715.3 416.7,721.9 419.3,712.0 422.0,721.9 424.6,710.6 426.9,698.0 430.0,721.3 432.0,708.6 434.6,721.3 437.3,708.6 439.6,699.3 442.0,719.3 444.6,718.6 447.3,722.6 449.9,721.9 452.6,723.3 455.3,719.9 457.9,719.9 459.9,723.9 462.6,722.6 464.6,722.6 465.9,714.6 467.7,706.6 469.9,708.6 472.6,719.3 474.6,719.3 477.2,720.6 479.9,723.9 482.6,727.3 484.6,720.6 486.6,718.6 489.9,723.9 492.6,712.0 495.2,712.0 497.2,710.6 500.5,698.6 502.5,708.0 505.2,717.9 507.7,708.0 510.3,714.6 513.0,721.3 516.3,722.6 518.3,721.3 520.3,723.3 522.3,716.0 525.0,715.3 527.6,707.3 530.3,709.3 533.0,710.0 535.6,719.9 538.3,704.6 541.0,719.9 542.9,706.6 544.9,719.9 547.6,714.6 550.3,710.0 552.9,708.0 555.6,714.0 557.6,705.3 558.9,698.0 561.6,702.0 563.6,705.3 566.3,718.6 568.9,714.6 571.6,716.6 574.9,715.3 577.6,718.6 580.9,726.6 583.6,721.3 586.2,716.6 588.9,708.6 591.6,717.3 594.2,718.6 596.9,718.6 598.9,719.9 601.5,714.6 604.0,726.6 606.7,723.3 608.7,718.6 611.3,722.6 614.0,712.0 616.6,716.0 619.3,712.0 621.6,704.0 623.3,714.6 626.0,718.6 628.6,714.0 631.3,711.3 634.6,711.3 637.3,712.0 639.3,717.3 641.9,710.6 644.6,708.6 647.3,713.3 649.5,698.0 651.3,703.3 653.9,710.0 657.3,710.6 659.9,712.0 662.3,719.3 663.9,712.0 666.6,713.3 669.2,711.3 672.6,708.0 675.2,714.6 678.6,715.3 681.2,709.3 684.2,702.6 687.2,713.3 689.5,707.3" stroke="#000" stroke-width="1.1" fill="none" stroke-linejoin="round"/>
<polyline points="410.9,714.6 414.0,714.0 416.0,716.0 418.7,710.6 420.6,712.6 423.3,712.0 425.3,706.6 426.9,696.6 429.0,708.0 431.3,710.0 433.3,716.0 436.0,716.0 438.0,714.0 440.0,712.0 442.0,716.0 444.6,716.6 447.9,719.3 450.6,721.3 453.9,720.6 455.9,718.6 457.9,717.9 460.6,717.3 462.6,719.9 465.3,718.6 467.3,716.6 469.9,719.9 472.6,719.3 475.2,717.9 477.9,720.6 480.6,723.3 482.6,722.6 485.2,716.6 487.9,717.3 489.9,716.0 492.6,712.0 495.2,714.6 497.2,720.6 499.2,711.3 501.2,710.0 503.9,713.3 507.7,706.0 511.0,714.6 515.0,717.9 517.6,716.6 520.3,716.6 523.6,715.3 526.3,716.0 529.0,717.3 531.6,717.9 534.3,710.6 537.0,706.6 539.6,719.9 541.0,726.6 542.9,706.6 544.9,714.6 547.6,712.0 550.9,701.3 552.9,712.0 556.3,718.6 558.3,712.0 560.3,708.6 563.6,708.6 566.3,714.0 568.9,715.3 571.6,714.0 574.9,712.0 577.6,718.6 580.2,719.3 583.6,719.9 586.9,717.3 588.9,717.3 591.6,723.3 594.2,718.6 596.9,716.6 599.5,722.6 602.7,721.3 605.3,716.6 608.0,717.3 610.7,719.3 613.3,709.3 615.3,708.6 617.3,714.6 619.3,721.9 621.3,716.0 624.0,713.3 626.6,715.3 630.0,712.0 633.3,708.6 636.6,709.3 639.9,708.0 642.6,706.6 645.3,706.0 647.3,711.3 649.3,704.6 651.9,710.0 654.6,713.3 657.3,707.3 659.9,709.3 661.9,714.6 663.9,707.3 666.6,711.3 669.2,708.6 671.9,706.6 674.6,712.0 677.2,713.3 679.9,716.0 681.9,710.6 684.6,701.3 686.6,708.0 688.5,708.6" stroke="#4538b2" stroke-width="1.75" stroke-dasharray="8 3" fill="none" stroke-linejoin="round"/>
<path d="M410.4 637.0V734.4H691.9 M407.8 734.4H410.4 M407.8 720.6H410.4 M407.8 706.7H410.4 M407.8 692.9H410.4 M407.8 679.0H410.4 M407.8 665.2H410.4 M407.8 651.3H410.4 M407.8 637.5H410.4 M410.4 734.4V737.0 M440.7 734.4V737.0 M471.1 734.4V737.0 M501.4 734.4V737.0 M531.7 734.4V737.0 M562.1 734.4V737.0 M592.4 734.4V737.0 M622.7 734.4V737.0 M653.1 734.4V737.0 M683.4 734.4V737.0" stroke="#000" stroke-width="1.3" fill="none"/>
<text x="405.5" y="737.2" class="y" text-anchor="end">0%</text>
<text x="405.5" y="723.4" class="y" text-anchor="end">10%</text>
<text x="405.5" y="709.5" class="y" text-anchor="end">20%</text>
<text x="405.5" y="695.7" class="y" text-anchor="end">30%</text>
<text x="405.5" y="681.8" class="y" text-anchor="end">40%</text>
<text x="405.5" y="668.0" class="y" text-anchor="end">50%</text>
<text x="405.5" y="654.1" class="y" text-anchor="end">60%</text>
<text x="405.5" y="640.3" class="y" text-anchor="end">70%</text>
<text transform="translate(414.5 740.2) rotate(-90)" class="x" text-anchor="end">Mar-99</text>
<text transform="translate(444.8 740.2) rotate(-90)" class="x" text-anchor="end">Mar-00</text>
<text transform="translate(475.2 740.2) rotate(-90)" class="x" text-anchor="end">Mar-01</text>
<text transform="translate(505.5 740.2) rotate(-90)" class="x" text-anchor="end">Mar-02</text>
<text transform="translate(535.8 740.2) rotate(-90)" class="x" text-anchor="end">Mar-03</text>
<text transform="translate(566.2 740.2) rotate(-90)" class="x" text-anchor="end">Mar-04</text>
<text transform="translate(596.5 740.2) rotate(-90)" class="x" text-anchor="end">Mar-05</text>
<text transform="translate(626.8 740.2) rotate(-90)" class="x" text-anchor="end">Mar-06</text>
<text transform="translate(657.2 740.2) rotate(-90)" class="x" text-anchor="end">Mar-07</text>
<text transform="translate(687.5 740.2) rotate(-90)" class="x" text-anchor="end">Mar-08</text>
</svg>
</body></html>
